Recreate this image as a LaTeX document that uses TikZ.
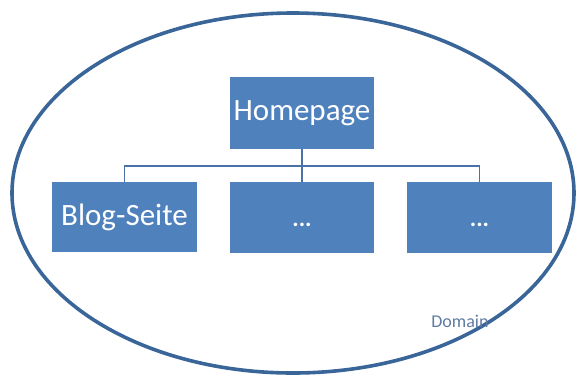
\documentclass[tikz,border=0pt]{standalone}
\usepackage{fontspec}
\setmainfont{Carlito}
\definecolor{boxblue}{HTML}{4F81BD}
\definecolor{ringblue}{HTML}{3A6598}
\definecolor{lineblue}{HTML}{4A72A8}
\definecolor{labelblue}{HTML}{5F7BA3}
\begin{document}
\begin{tikzpicture}[x=1pt,y=-1pt,
  pagebox/.style={fill=boxblue,draw=none,text=white,inner sep=0pt,font=\fontsize{31}{34}\selectfont},
  dotsbox/.style={pagebox,font=\bfseries\fontsize{24}{26}\selectfont},
  conn/.style={draw=lineblue,line width=1.8pt}]
\useasboundingbox (0,0) rectangle (579,376);
\draw[ringblue,line width=3.6pt] (293,193) ellipse [x radius=281, y radius=180];
\node[pagebox,minimum width=144pt,minimum height=72pt] (home) at (302,113) {Homepage};
\node[pagebox,minimum width=145pt,minimum height=70pt] (blog) at (124.5,217) {Blog-Seite};
\node[dotsbox,minimum width=144pt,minimum height=71pt] (mid) at (302,217.5) {\raisebox{-9pt}[0pt][0pt]{...}};
\node[dotsbox,minimum width=145pt,minimum height=71pt] (right) at (479.5,217.5) {\raisebox{-9pt}[0pt][0pt]{...}};
\coordinate (hub) at (302,166);
\draw[conn] (home.south) -- (hub);
\draw[conn] (blog.north) |- (hub) -| (right.north);
\draw[conn] (hub) -- (mid.north);
\node[text=labelblue,font=\fontsize{18}{20}\selectfont,inner sep=0pt] (dom) at (460,321) {Domain};
\end{tikzpicture}
\end{document}
